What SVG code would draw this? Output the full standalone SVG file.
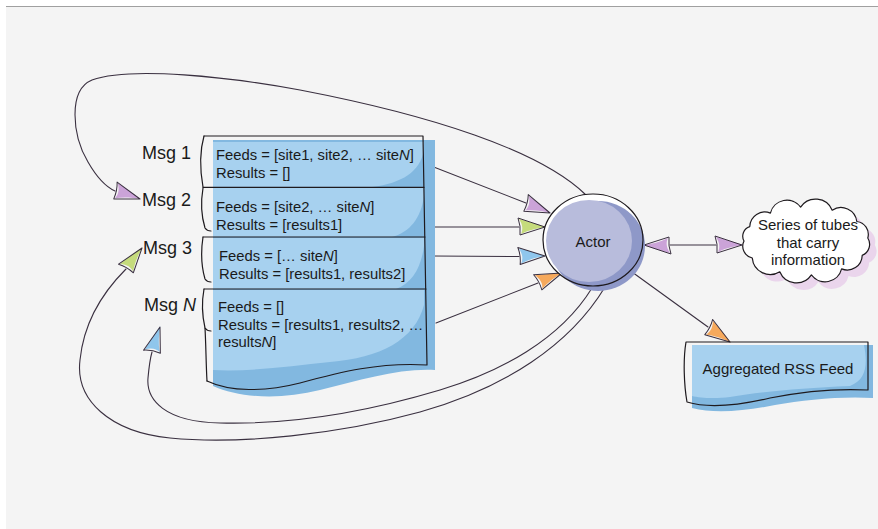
<svg xmlns="http://www.w3.org/2000/svg" xmlns:xlink="http://www.w3.org/1999/xlink" width="878" height="529" viewBox="0 0 878 529">
  <style>
    text { font-family: "Liberation Sans", Arial, sans-serif; fill: #1a1a1a; }
    .doc { font-size: 14.8px; }
    .msg { font-size: 18px; }
    .lbl { font-size: 15px; }
    .ink { fill: none; stroke: #1e1a1e; stroke-width: 1.2; stroke-linecap: round; stroke-linejoin: round; }
    .wire { fill: none; stroke: #3a3040; stroke-width: 1.1; stroke-linecap: round; }
    .ah-line { fill: none; stroke: #3a3040; stroke-width: 1; stroke-linejoin: round; }
    .dark-blue { fill: #82b8e0; }
    .light-blue { fill: #a7d1ef; }
  </style>
  <defs>
    <!-- sketchy arrowhead, tip at the origin, pointing along +x -->
    <path id="ah-fill" d="M1,0 C-8,-3 -18,-6 -26,-8 C-22,-2 -22,3 -24,7 C-16,3 -8,1 1,0 Z"/>
    <path id="ah-edge" d="M0,0 L-27,-9 Q-24,-1 -25,8 Z"/>
    <!-- scalloped cloud outline -->
    <path id="cloud" d="M744,241 A10,10 0 0 1 749.8,226.6 A15,15 0 0 1 770.4,213.1 A17,17 0 0 1 800.6,207.1 A18,18 0 0 1 832.2,210.2 A16,16 0 0 1 856.8,221.5 A13,13 0 0 1 867.8,238 A12,12 0 0 1 862.2,255.4 A15,15 0 0 1 841.6,268.9 A17,17 0 0 1 811.4,274.9 A18,18 0 0 1 779.8,271.8 A18,18 0 0 1 752.3,258 A12,12 0 0 1 744,241 Z"/>
  </defs>

  <!-- canvas -->
  <rect x="0" y="0" width="878" height="529" fill="#ffffff"/>
  <rect x="6" y="6" width="872" height="523" fill="#f4f4f4"/>
  <line x1="6" y1="6.5" x2="878" y2="6.5" stroke="#a0a0a0" stroke-width="1"/>

  <!-- connectors -->
  <g id="connectors">
    <path class="wire" d="M586,195 C540,150 430,115 300,90 C230,77 130,66 92,80 C68,90 72,135 88,162 C96,176 104,186 115,191"/>
    <path class="wire" d="M605,287 C570,345 505,388 420,412 C340,434 240,445 170,438 C110,432 75,400 80,360 C84,320 105,290 126,269"/>
    <path class="wire" d="M592,288 C560,340 500,372 440,390 C380,408 300,425 220,423 C165,422 146,400 148,378 C149,367 150,359 152,352"/>
    <line class="wire" x1="426" y1="164" x2="526" y2="203"/>
    <line class="wire" x1="428" y1="227" x2="519" y2="227"/>
    <line class="wire" x1="433" y1="256" x2="519" y2="256.5"/>
    <line class="wire" x1="436" y1="323" x2="538" y2="283"/>
    <line class="wire" x1="670" y1="245" x2="716" y2="245"/>
    <line class="wire" x1="632" y1="272" x2="708" y2="327"/>

    <g transform="translate(550,213) rotate(21.8)"><use xlink:href="#ah-fill" fill="#cba3d8"/><use xlink:href="#ah-edge" class="ah-line"/></g>
    <g transform="translate(545,227) rotate(0)"><use xlink:href="#ah-fill" fill="#c5db7c"/><use xlink:href="#ah-edge" class="ah-line"/></g>
    <g transform="translate(545,256) rotate(-1)"><use xlink:href="#ah-fill" fill="#8fc6ec"/><use xlink:href="#ah-edge" class="ah-line"/></g>
    <g transform="translate(562,273) rotate(-22)"><use xlink:href="#ah-fill" fill="#f6a95c"/><use xlink:href="#ah-edge" class="ah-line"/></g>
    <g transform="translate(644,245) rotate(180)"><use xlink:href="#ah-fill" fill="#cba3d8"/><use xlink:href="#ah-edge" class="ah-line"/></g>
    <g transform="translate(742,245) rotate(0)"><use xlink:href="#ah-fill" fill="#cba3d8"/><use xlink:href="#ah-edge" class="ah-line"/></g>
    <g transform="translate(730,342) rotate(34)"><use xlink:href="#ah-fill" fill="#f6a95c"/><use xlink:href="#ah-edge" class="ah-line"/></g>
    <g transform="translate(140,199) rotate(18)"><use xlink:href="#ah-fill" fill="#cba3d8"/><use xlink:href="#ah-edge" class="ah-line"/></g>
    <g transform="translate(142,248) rotate(-53)"><use xlink:href="#ah-fill" fill="#c5db7c"/><use xlink:href="#ah-edge" class="ah-line"/></g>
    <g transform="translate(160,327) rotate(-73)"><use xlink:href="#ah-fill" fill="#8fc6ec"/><use xlink:href="#ah-edge" class="ah-line"/></g>
  </g>

  <!-- message labels -->
  <g id="labels">
    <text class="msg" x="142" y="159">Msg 1</text>
    <text class="msg" x="142" y="206">Msg 2</text>
    <text class="msg" x="143" y="254">Msg 3</text>
    <text class="msg" x="144" y="311">Msg <tspan font-style="italic">N</tspan></text>
  </g>

  <!-- stack of message documents -->
  <g id="message-stack">
    <path class="dark-blue" d="M213,140 H435 V370 C400,368 360,380 320,390 C280,400 240,398 213,386 Z"/>
    <path class="light-blue" d="M213,142 H424 V150 C420,172 402,183 372,187 H213 Z"/>
    <path class="light-blue" d="M213,188 H424 V196 C421,218 410,232 392,237 H213 Z"/>
    <path class="light-blue" d="M213,238 H424 V246 C421,268 412,283 396,289 H213 Z"/>
    <path class="light-blue" d="M213,290 H424 V305 C415,340 380,358 330,362 C290,366 250,372 213,370 Z"/>

    <path class="ink" d="M204,136 H423 L427,365 C380,362 340,372 300,383 C265,392 230,392 207,381"/>
    <line class="ink" x1="203" y1="187.3" x2="424" y2="187.3"/>
    <line class="ink" x1="203" y1="237" x2="425" y2="237"/>
    <line class="ink" x1="204" y1="289" x2="426" y2="289"/>
    <path class="ink" d="M204,136 C200,150 200,170 203,187"/>
    <path class="ink" d="M203,188 C201,200 201,215 205,228 Q207,231 211,231"/>
    <path class="ink" d="M203,237 C201,250 201,265 205,279 Q207,282 211,282"/>
    <path class="ink" d="M204,289 C202,300 202,315 205,328 Q207,331 211,331"/>
    <path class="ink" d="M205,328 C206,345 206,365 207,381"/>

    <text class="doc" x="216" y="160">Feeds = [site1, site2, … site<tspan font-style="italic">N</tspan>]</text>
    <text class="doc" x="216" y="178">Results = []</text>
    <text class="doc" x="216" y="212">Feeds = [site2, … site<tspan font-style="italic">N</tspan>]</text>
    <text class="doc" x="216" y="230">Results = [results1]</text>
    <text class="doc" x="219" y="261">Feeds = [… site<tspan font-style="italic">N</tspan>]</text>
    <text class="doc" x="219" y="279">Results = [results1, results2]</text>
    <text class="doc" x="218" y="312">Feeds = []</text>
    <text class="doc" x="218" y="330">Results = [results1, results2, …</text>
    <text class="doc" x="218" y="347">results<tspan font-style="italic">N</tspan>]</text>
  </g>

  <!-- actor -->
  <g id="actor">
    <ellipse cx="593" cy="240" rx="50" ry="46" fill="#ffffff"/>
    <ellipse cx="598" cy="246" rx="47" ry="45" fill="#8e98c8"/>
    <ellipse cx="589" cy="241" rx="43" ry="41" fill="#b8bcdc"/>
    <ellipse class="ink" cx="593" cy="240" rx="50" ry="46"/>
    <text class="lbl" x="593" y="247" text-anchor="middle">Actor</text>
  </g>

  <!-- cloud -->
  <g id="tubes-cloud">
    <use xlink:href="#cloud" transform="translate(7,7)" fill="#ead5ec"/>
    <use xlink:href="#cloud" fill="#ffffff" stroke="#1e1a1e" stroke-width="1.2" stroke-linejoin="round"/>
    <text class="lbl" x="808" y="230" text-anchor="middle">Series of tubes</text>
    <text class="lbl" x="808" y="248" text-anchor="middle">that carry</text>
    <text class="lbl" x="808" y="265" text-anchor="middle">information</text>
  </g>

  <!-- aggregated feed document -->
  <g id="rss-feed">
    <path class="dark-blue" d="M692,345 H873 V398 C840,396 805,400 775,405 C745,411 715,414 692,408 Z"/>
    <path class="light-blue" d="M692,345 H864 C868,365 866,380 850,386 C800,388 760,392 730,397 C715,399 700,398 692,396 Z"/>
    <path class="ink" d="M686,342 H868 V390 C830,388 800,392 770,398 C740,405 710,409 687,402 C684,385 683,360 686,342 Z"/>
    <text class="lbl" x="778" y="374" text-anchor="middle">Aggregated RSS Feed</text>
  </g>
</svg>
